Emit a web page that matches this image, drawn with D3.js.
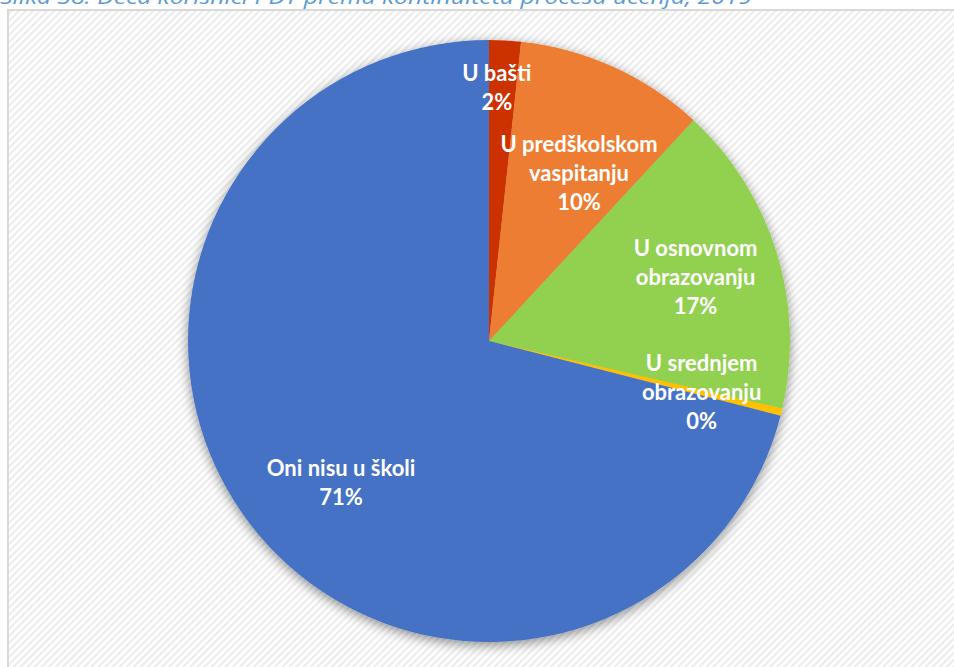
<!DOCTYPE html>
<html>
<head>
<meta charset="utf-8">
<script src="https://cdn.jsdelivr.net/npm/d3@7"></script>
<style>
  html, body { margin: 0; padding: 0; background: #fff; overflow: hidden; }
  svg { display: block; }
</style>
</head>
<body>
<svg id="chart" width="954" height="667"></svg>
<script>
// slices, clockwise from 12 o'clock
var categories = ["U bašti", "U predškolskom vaspitanju", "U osnovnom obrazovanju", "U srednjem obrazovanju", "Oni nisu u školi"];
var shares = [1.7, 10.2, 16.7, 0.4, 71.0];
var percentLabels = ["2%", "10%", "17%", "0%", "71%"];
var labelLines = [["U bašti"], ["U predškolskom", "vaspitanju"], ["U osnovnom", "obrazovanju"], ["U srednjem", "obrazovanju"], ["Oni nisu u školi"]];
var colors = ["#CC3300", "#ED7D31", "#92D050", "#FFC000", "#4472C4"];
var caption = "Slika 38: Deca korisnici PDT prema kontinuitetu procesa učenja, 2019";

var svg = d3.select("#chart");
var defs = svg.append("defs");

// diagonal hatch background like the excel chart area
var pat = defs.append("pattern")
    .attr("id", "hatch")
    .attr("patternUnits", "userSpaceOnUse")
    .attr("width", 5).attr("height", 5)
    .attr("patternTransform", "rotate(45)");
pat.append("rect").attr("width", 5).attr("height", 5).attr("fill", "#ffffff");
pat.append("rect").attr("width", 2.2).attr("height", 5).attr("fill", "#ececec");

var shadow = defs.append("filter").attr("id", "shadow")
    .attr("x", "-20%").attr("y", "-20%").attr("width", "140%").attr("height", "140%");
shadow.append("feGaussianBlur").attr("in", "SourceAlpha").attr("stdDeviation", 6).attr("result", "b");
shadow.append("feOffset").attr("in", "b").attr("dx", 0).attr("dy", 3).attr("result", "o");
shadow.append("feComponentTransfer").attr("in", "o").attr("result", "s")
  .append("feFuncA").attr("type", "linear").attr("slope", 0.45);
var mg = shadow.append("feMerge");
mg.append("feMergeNode").attr("in", "s");
mg.append("feMergeNode").attr("in", "SourceGraphic");

// caption, cut off at the top like in the source
svg.append("text")
    .attr("x", 0).attr("y", 4)
    .attr("font-family", "'Open Sans', sans-serif")
    .attr("font-style", "italic")
    .attr("font-size", 20)
    .attr("fill", "#5B9BD5")
    .attr("textLength", 752)
    .attr("lengthAdjust", "spacingAndGlyphs")
    .text(caption);

// chart area frame
svg.append("rect")
    .attr("x", 8).attr("y", 10)
    .attr("width", 960).attr("height", 680)
    .attr("fill", "url(#hatch)")
    .attr("stroke", "#d9d9d9").attr("stroke-width", 2);

var cx = 489, cy = 341, radius = 301;
var g = svg.append("g").attr("transform", "translate(" + cx + "," + cy + ")");

var pie = d3.pie().sort(null).value(function(d) { return d; });
var arcs = pie(shares);
var arc = d3.arc().innerRadius(0).outerRadius(radius);

g.append("g").attr("filter", "url(#shadow)")
  .selectAll("path")
  .data(arcs)
  .enter().append("path")
    .attr("d", arc)
    .attr("fill", function(d, i) { return colors[i]; });

// excel "best fit" placement: radius fraction + small angle nudge (deg)
var labelR = [0.84, 0.633, 0.718, 0.727, 0.68];
var labelNudge = [-1.3, 3.7, 0, 0, -5.9];
var lineH = 29;

g.selectAll(".lbl")
    .data(arcs)
    .enter().append("text")
    .attr("class", "lbl")
    .attr("text-anchor", "middle")
    .attr("font-family", "Lato, 'Open Sans', sans-serif")
    .attr("font-weight", "bold")
    .attr("font-size", 22)
    .attr("fill", "#ffffff")
    .each(function(d, i) {
      var mid = (d.startAngle + d.endAngle) / 2 + labelNudge[i] * Math.PI / 180;
      var c = d3.pointRadial(mid, radius * labelR[i]);
      var lines = labelLines[i].concat([percentLabels[i]]);
      var top = c[1] - (lines.length - 1) * lineH / 2;
      var t = d3.select(this);
      lines.forEach(function(s, k) {
        t.append("tspan")
          .attr("x", c[0])
          .attr("y", top + k * lineH)
          .attr("dy", "0.35em")
          .text(s);
      });
    });
</script>
</body>
</html>
